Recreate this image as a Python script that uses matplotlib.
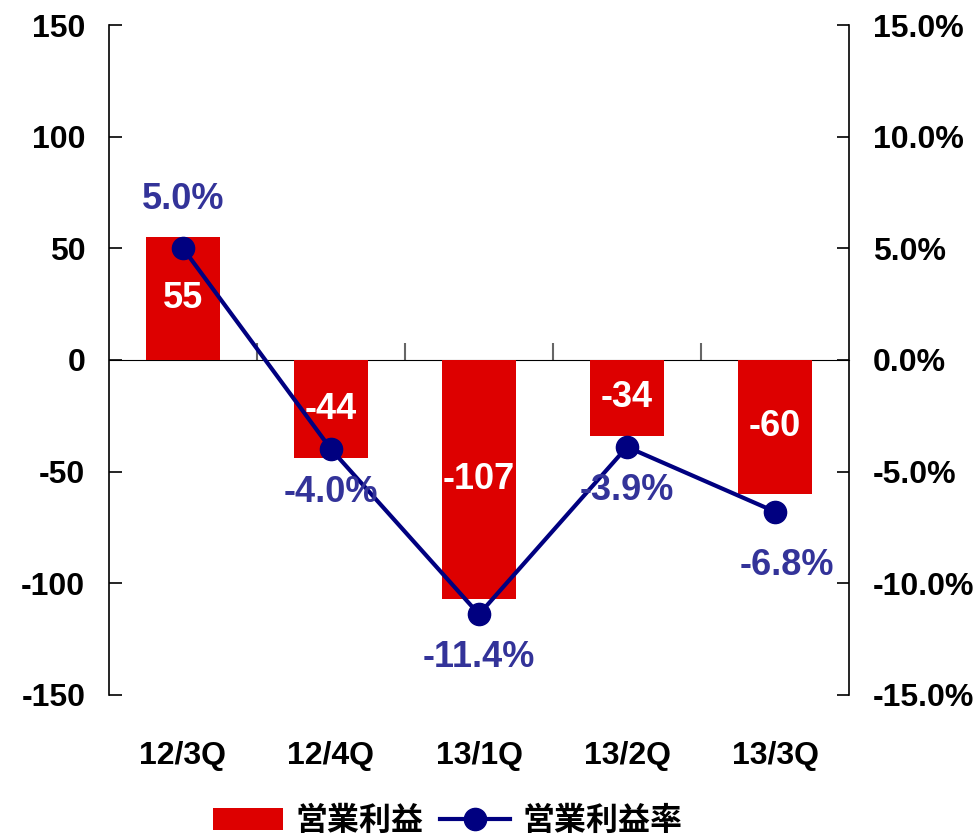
import matplotlib
matplotlib.use("Agg")
import matplotlib.pyplot as plt

plt.rcParams["font.family"] = ["Liberation Sans", "Noto Sans CJK JP"]
plt.rcParams["font.weight"] = "bold"
plt.rcParams["axes.unicode_minus"] = False

quarters = ["12/3Q", "12/4Q", "13/1Q", "13/2Q", "13/3Q"]
profit = [55, -44, -107, -34, -60]
margin = [5.0, -4.0, -11.4, -3.9, -6.8]
profit_labels = ["55", "-44", "-107", "-34", "-60"]
margin_labels = ["5.0%", "-4.0%", "-11.4%", "-3.9%", "-6.8%"]

bar_color = "#DD0000"
line_color = "#000080"
label_color = "#333399"

fig = plt.figure(figsize=(9.73, 8.36), dpi=100)
ax = fig.add_axes([0.112, 0.169, 0.7606, 0.801])
x = list(range(len(quarters)))

bars = ax.bar(x, profit, width=0.5, color=bar_color, label="営業利益", zorder=2)
for bar, txt in zip(bars, profit_labels):
    ax.text(bar.get_x() + bar.get_width() / 2, bar.get_height() / 2, txt,
            ha="center", va="center", color="white", fontsize=26, fontweight="bold", zorder=3)

ax.set_xlim(-0.5, len(quarters) - 0.5)
ax.set_ylim(-150, 150)
ax.set_yticks([-150, -100, -50, 0, 50, 100, 150])
ax.tick_params(axis="y", direction="in", length=9, width=1.2, pad=17, labelsize=23)
ax.set_xticks(x)
ax.set_xticklabels(quarters)
ax.tick_params(axis="x", length=0, pad=33, labelsize=23)
for s in ["top", "bottom", "right"]:
    ax.spines[s].set_visible(False)
ax.spines["left"].set_linewidth(1.2)

# zero line with category separators
sec = ax.secondary_xaxis(0.5)
sec.set_xticks([i + 0.5 for i in x[:-1]])
sec.set_xticklabels([])
sec.tick_params(axis="x", direction="out", length=12, width=1.5, color="#666666")
sec.spines["bottom"].set_color("#666666")
sec.spines["bottom"].set_linewidth(1.5)

ax2 = ax.twinx()
ax2.plot(x, margin, color=line_color, linewidth=3, marker="o", markersize=16,
         label="営業利益率", zorder=4)
ax2.set_ylim(-15, 15)
ax2.set_yticks([-15, -10, -5, 0, 5, 10, 15])
ax2.set_yticklabels([f"{v:.1f}%" for v in [-15, -10, -5, 0, 5, 10, 15]])
ax2.tick_params(axis="y", direction="in", length=9, width=1.2, pad=17, labelsize=23)
for s in ["top", "bottom", "left"]:
    ax2.spines[s].set_visible(False)
ax2.spines["right"].set_linewidth(1.2)

for i, (xi, v, txt) in enumerate(zip(x, margin, margin_labels)):
    dx, dy = 0, (2.2 if v > 0 else -1.95)
    if i == len(x) - 1:
        dx, dy = 0.08, -2.4
    ax2.text(xi + dx, v + dy, txt, ha="center", va="center", color=label_color,
             fontsize=26, fontweight="bold", zorder=5)

h1, l1 = ax.get_legend_handles_labels()
h2, l2 = ax2.get_legend_handles_labels()
fig.legend(h1 + h2, l1 + l2, loc="lower center", bbox_to_anchor=(0.46, -0.036), ncol=2,
           frameon=False, handlelength=2.2, handletextpad=0.4, columnspacing=0.5,
           prop={"family": ["Noto Sans CJK JP", "Liberation Sans"], "weight": "bold", "size": 23})

fig.savefig("out.png", dpi=100)
